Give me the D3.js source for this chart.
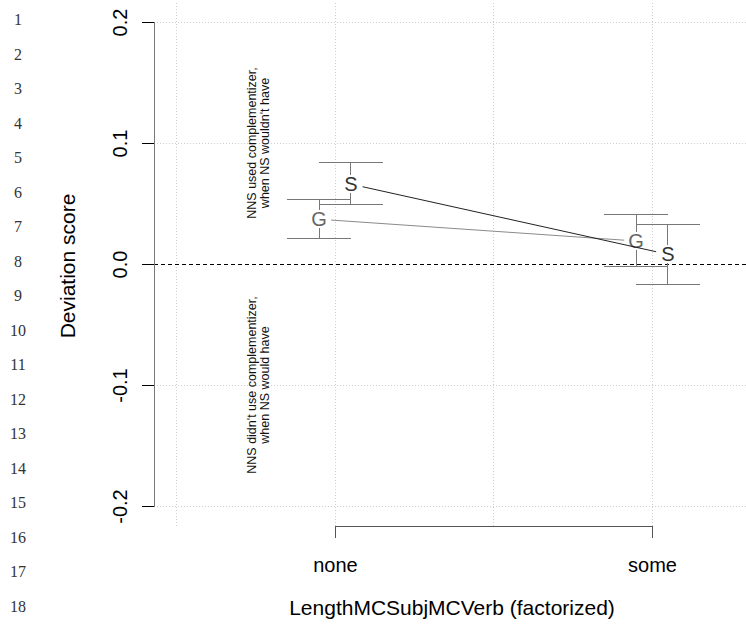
<!DOCTYPE html>
<html>
<head>
<meta charset="utf-8">
<script src="https://cdn.jsdelivr.net/npm/d3@7"></script>
<style>
  body { margin: 0; background: #fff; }
  svg { display: block; font-family: "Liberation Sans", Arial, sans-serif; }
  .crisp line, .crisp path { shape-rendering: crispEdges; }
</style>
</head>
<body>
<div id="wrapper"></div>
<script>
const categories = ["none", "some"];
const groups = ["G", "S"];
// means and interval bounds per group, in category order
const meanG = [0.037, 0.019];
const upperG = [0.053, 0.0405];
const lowerG = [0.021, -0.002];
const meanS = [0.066, 0.008];
const upperS = [0.084, 0.033];
const lowerS = [0.049, -0.017];
const yTicks = [-0.2, -0.1, 0.0, 0.1, 0.2];
const xGrid = [0.5, 1, 1.5, 2];
const lineNumbers = d3.range(1, 19);

const series = [
  { name: "G", offset: -0.05, mean: meanG, upper: upperG, lower: lowerG, letter: "#666", line: "#8a8a8a" },
  { name: "S", offset: 0.05, mean: meanS, upper: upperS, lower: lowerS, letter: "#333", line: "#222" },
];

const width = 746;
const height = 628;

const svg = d3
  .select("#wrapper")
  .append("svg")
  .attr("width", width)
  .attr("height", height);

const xScale = d3.scaleLinear().domain([1, 2]).range([335, 652]);
const yScale = d3.scaleLinear().domain([-0.2, 0.2]).range([506, 22]);

const plotTop = 3;
const plotBottom = 526;
const axisX = 154;

// line numbers in the left gutter
svg
  .append("g")
  .selectAll("text")
  .data(lineNumbers)
  .join("text")
  .attr("x", 18)
  .attr("y", (d) => 25 + (d - 1) * 34.5)
  .attr("text-anchor", "middle")
  .style("font-family", "'Liberation Serif', serif")
  .style("font-size", "16px")
  .attr("fill", "#333")
  .text((d) => d);

// dotted grid
const grid = svg
  .append("g")
  .attr("class", "crisp")
  .attr("stroke", "#cfcfcf")
  .attr("stroke-dasharray", "1,2");
grid
  .selectAll(".hgrid")
  .data(yTicks.filter((d) => d !== 0))
  .join("line")
  .attr("x1", axisX)
  .attr("x2", width)
  .attr("y1", (d) => yScale(d))
  .attr("y2", (d) => yScale(d));
grid
  .selectAll(".vgrid")
  .data(xGrid)
  .join("line")
  .attr("x1", (d) => xScale(d))
  .attr("x2", (d) => xScale(d))
  .attr("y1", plotTop)
  .attr("y2", plotBottom);

// zero reference line
svg
  .append("g")
  .attr("class", "crisp")
  .append("line")
  .attr("x1", axisX)
  .attr("x2", width)
  .attr("y1", yScale(0))
  .attr("y2", yScale(0))
  .attr("stroke", "#000")
  .attr("stroke-dasharray", "4,3");

// y axis
const yAxis = svg
  .append("g")
  .attr("class", "crisp")
  .attr("transform", `translate(${axisX},0)`)
  .call(d3.axisLeft(yScale).tickValues(yTicks).tickSize(12).tickFormat(d3.format(".1f")));
yAxis.select(".domain").attr("stroke", "#777").attr("d", `M-12,${yScale(0.2)}H0V${yScale(-0.2)}H-12`);
yAxis.selectAll(".tick line").attr("stroke", "#000");
yAxis
  .selectAll(".tick text")
  .attr("x", null)
  .attr("dy", null)
  .attr("text-anchor", "middle")
  .attr("transform", "translate(-27,0) rotate(-90)")
  .style("font-size", "20px")
  .style("font-family", "'Liberation Sans', Arial, sans-serif")
  .attr("fill", "#000")
  .text((d) => d3.format(".1f")(d).replace("−", "-"));

// x axis bracket
const xAxis = svg
  .append("g")
  .attr("class", "crisp")
  .attr("transform", `translate(0,${plotBottom})`)
  .call(d3.axisBottom(xScale).tickValues([1, 2]).tickSize(12).tickFormat((d) => categories[d - 1]));
xAxis.select(".domain").attr("stroke", "#555");
xAxis.selectAll(".tick line").attr("stroke", "#555");
xAxis
  .selectAll(".tick text")
  .attr("y", 46)
  .attr("dy", null)
  .style("font-size", "20px")
  .style("font-family", "'Liberation Sans', Arial, sans-serif")
  .attr("fill", "#000");

// axis titles
svg
  .append("text")
  .attr("transform", `translate(75,266) rotate(-90)`)
  .attr("text-anchor", "middle")
  .style("font-size", "21px")
  .text("Deviation score");

svg
  .append("text")
  .attr("x", 452)
  .attr("y", 615)
  .attr("text-anchor", "middle")
  .style("font-size", "21px")
  .text("LengthMCSubjMCVerb (factorized)");

// annotations
const notes = [
  { y: 0.1, lines: ["NNS used complementizer,", "when NS wouldn't have"] },
  { y: -0.1, lines: ["NNS didn't use complementizer,", "when NS would have"] },
];
notes.forEach((n) => {
  n.lines.forEach((t, i) => {
    svg
      .append("text")
      .attr("transform", `translate(${256 + i * 13},${yScale(n.y)}) rotate(-90)`)
      .attr("text-anchor", "middle")
      .style("font-size", "12.5px")
      .attr("fill", "#111")
      .text(t);
  });
});

// error bars, connecting lines and letters
const capHalf = 0.1;
const gapV = 9;
const gapL = 12;
series.forEach((s) => {
  const g = svg.append("g");
  const bars = g.append("g").attr("class", "crisp").attr("stroke", "#777");
  categories.forEach((c, i) => {
    const cx = xScale(i + 1 + s.offset);
    const cy = yScale(s.mean[i]);
    const yU = yScale(s.upper[i]);
    const yL = yScale(s.lower[i]);
    bars.append("line")
      .attr("x1", cx).attr("x2", cx)
      .attr("y1", yU).attr("y2", Math.max(yU, cy - gapV));
    bars.append("line")
      .attr("x1", cx).attr("x2", cx)
      .attr("y1", Math.min(yL, cy + gapV)).attr("y2", yL);
    [yU, yL].forEach((yy) => {
      bars.append("line")
        .attr("x1", xScale(i + 1 + s.offset - capHalf))
        .attr("x2", xScale(i + 1 + s.offset + capHalf))
        .attr("y1", yy)
        .attr("y2", yy);
    });
  });

  const x0 = xScale(1 + s.offset);
  const y0 = yScale(s.mean[0]);
  const x1 = xScale(2 + s.offset);
  const y1 = yScale(s.mean[1]);
  const len = Math.hypot(x1 - x0, y1 - y0);
  const ux = (x1 - x0) / len;
  const uy = (y1 - y0) / len;
  g.append("line")
    .attr("x1", x0 + ux * gapL)
    .attr("y1", y0 + uy * gapL)
    .attr("x2", x1 - ux * gapL)
    .attr("y2", y1 - uy * gapL)
    .attr("stroke", s.line);

  g.selectAll(".pt")
    .data(s.mean)
    .join("text")
    .attr("x", (d, i) => xScale(i + 1 + s.offset))
    .attr("y", (d) => yScale(d) + 7)
    .attr("text-anchor", "middle")
    .style("font-size", "20px")
    .attr("fill", s.letter)
    .text(s.name);
});
</script>
</body>
</html>
